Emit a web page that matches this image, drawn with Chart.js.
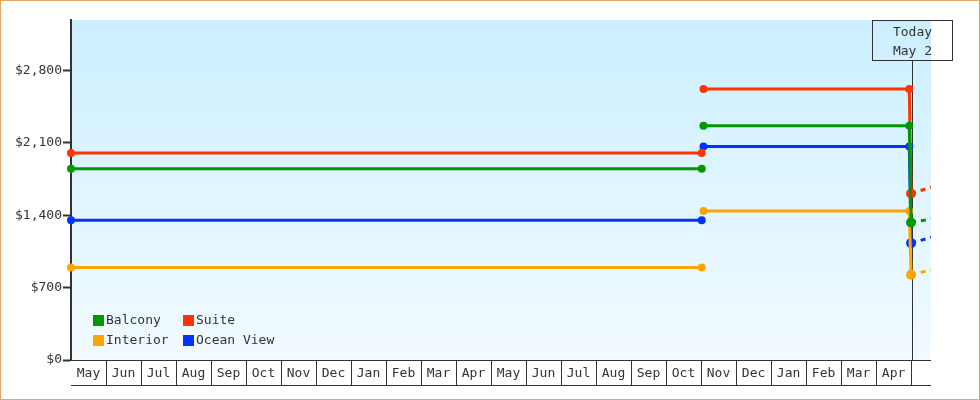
<!DOCTYPE html>
<html>
<head>
<meta charset="utf-8">
<script src="https://cdn.jsdelivr.net/npm/chart.js@4"></script>
<style>
  html, body { margin: 0; padding: 0; background: #fff; }
  #wrap { width: 980px; height: 400px; position: relative; }
</style>
</head>
<body>
<div id="wrap"><canvas id="chart"></canvas></div>
<script>
// Cabin price history, x in months since the first May
const monthLabels = ['May', 'Jun', 'Jul', 'Aug', 'Sep', 'Oct', 'Nov', 'Dec', 'Jan', 'Feb', 'Mar', 'Apr',
                     'May', 'Jun', 'Jul', 'Aug', 'Sep', 'Oct', 'Nov', 'Dec', 'Jan', 'Feb', 'Mar', 'Apr'];
const seriesNames = ['Balcony', 'Suite', 'Interior', 'Ocean View'];
const pointMonths = [0, 18.02, 18.05, 18.07, 23.95, 24.0];
const balcony   = [1850, 1850, null, 2265, 2265, 1330];
const suite     = [2000, 2000, null, 2620, 2620, 1610];
const interior  = [895, 895, null, 1440, 1440, 825];
const oceanView = [1350, 1350, null, 2065, 2065, 1130];

// projected trend after today (dashed)
const projMonths = [24.0, 25.0];
const balconyProj   = [1330, 1385];
const suiteProj     = [1610, 1715];
const interiorProj  = [825, 905];
const oceanViewProj = [1130, 1225];

const yTickValues = [0, 700, 1400, 2100, 2800];
const todayMonth = 24.04;
const todayLabel = ['Today', 'May 2'];

const seriesColors = ['#009900', '#ff3300', '#ffa500', '#0033ff'];
const FONT = '13px "DejaVu Sans Mono", monospace';
const INK = '#333';

function toPoints(xs, ys) {
    return xs.map((x, i) => ({ x: x, y: ys[i] }));
}

const mainValues = [balcony, suite, interior, oceanView];
const projValues = [balconyProj, suiteProj, interiorProj, oceanViewProj];

const datasets = [];
mainValues.forEach((vals, i) => {
    datasets.push({
        label: seriesNames[i],
        data: toPoints(pointMonths, vals),
        borderColor: seriesColors[i],
        backgroundColor: seriesColors[i],
        borderWidth: 3,
        pointRadius: vals.map((v, j) => v === null ? 0 : (j === vals.length - 1 ? 5 : 4)),
        pointHoverRadius: 5,
        pointBorderWidth: 0,
        spanGaps: false,
        tension: 0,
        clip: false
    });
});
projValues.forEach((vals, i) => {
    datasets.push({
        label: '',
        isProjection: true,
        data: toPoints(projMonths, vals),
        borderColor: seriesColors[i],
        borderWidth: 3,
        borderDash: [5, 5],
        pointRadius: 0,
        tension: 0
    });
});

// plot background, outer frame
const backdropPlugin = {
    id: 'backdrop',
    beforeDraw(chart) {
        const { ctx, chartArea: a } = chart;
        ctx.save();
        ctx.fillStyle = '#fff';
        ctx.fillRect(0, 0, chart.width, chart.height);
        const g = ctx.createLinearGradient(0, a.top, 0, a.bottom);
        g.addColorStop(0, '#ccefff');
        g.addColorStop(1, '#f2fbff');
        ctx.fillStyle = g;
        ctx.fillRect(a.left, a.top, a.right - a.left, a.bottom - a.top);
        ctx.restore();
    },
    afterDraw(chart) {
        const ctx = chart.ctx;
        ctx.save();
        ctx.strokeStyle = '#e8a862';
        ctx.lineWidth = 1;
        ctx.strokeRect(0.5, 0.5, chart.width - 1, chart.height - 1);
        ctx.restore();
    }
};

// month cells under the plot
const monthAxisPlugin = {
    id: 'monthAxis',
    afterDraw(chart) {
        const { ctx, chartArea: a } = chart;
        const xs = chart.scales.x;
        const top = a.bottom, bottom = a.bottom + 25;
        ctx.save();
        ctx.strokeStyle = INK;
        ctx.lineWidth = 1;
        ctx.beginPath();
        ctx.moveTo(a.left, top + 0.5);
        ctx.lineTo(a.right, top + 0.5);
        ctx.moveTo(a.left, bottom + 0.5);
        ctx.lineTo(a.right, bottom + 0.5);
        for (let i = 1; i <= monthLabels.length; i++) {
            const x = Math.round(xs.getPixelForValue(i)) + 0.5;
            ctx.moveTo(x, top);
            ctx.lineTo(x, bottom);
        }
        ctx.stroke();
        ctx.fillStyle = INK;
        ctx.font = FONT;
        ctx.textAlign = 'center';
        ctx.textBaseline = 'middle';
        monthLabels.forEach((m, i) => {
            ctx.fillText(m, xs.getPixelForValue(i + 0.5), top + 14);
        });
        ctx.restore();
    }
};

// "Today" marker
const todayPlugin = {
    id: 'today',
    beforeDatasetsDraw(chart) {
        const { ctx, chartArea: a } = chart;
        const x = Math.round(chart.scales.x.getPixelForValue(todayMonth)) + 0.5;
        ctx.save();
        ctx.strokeStyle = INK;
        ctx.lineWidth = 1;
        ctx.beginPath();
        ctx.moveTo(x, a.top + 40);
        ctx.lineTo(x, a.bottom);
        ctx.stroke();
        ctx.strokeRect(x - 40, a.top + 0.5, 80, 40);
        ctx.fillStyle = INK;
        ctx.font = FONT;
        ctx.textAlign = 'center';
        ctx.textBaseline = 'middle';
        ctx.fillText(todayLabel[0], x, a.top + 13);
        ctx.fillText(todayLabel[1], x, a.top + 32);
        ctx.restore();
    }
};

// legend inside the plot, two columns
const insideLegendPlugin = {
    id: 'insideLegend',
    afterDatasetsDraw(chart) {
        const { ctx, chartArea: a } = chart;
        const items = chart.data.datasets.filter(d => !d.isProjection);
        ctx.save();
        ctx.font = FONT;
        ctx.textBaseline = 'middle';
        ctx.textAlign = 'left';
        items.forEach((d, i) => {
            const col = i % 2, row = Math.floor(i / 2);
            const x = a.left + 22 + col * 90;
            const y = a.bottom - 40 + row * 20;
            ctx.fillStyle = d.borderColor;
            ctx.fillRect(x, y - 5, 11, 11);
            ctx.fillStyle = INK;
            ctx.fillText(d.label, x + 13, y + 1);
        });
        ctx.restore();
    }
};

const ctx = document.getElementById('chart').getContext('2d');
new Chart(ctx, {
    type: 'line',
    data: { datasets: datasets },
    options: {
        responsive: true,
        maintainAspectRatio: false,
        animation: false,
        layout: { padding: { left: 0, right: 49, top: 20, bottom: 0 } },
        plugins: {
            legend: { display: false },
            tooltip: { enabled: false }
        },
        scales: {
            x: {
                type: 'linear',
                min: 0,
                max: 24.57,
                ticks: { display: false },
                grid: { display: false },
                border: { display: false },
                afterFit: scale => { scale.height = 40; }
            },
            y: {
                min: 0,
                max: 3287,
                afterBuildTicks: scale => {
                    scale.ticks = yTickValues.map(v => ({ value: v }));
                },
                afterFit: scale => { scale.width = 71; },
                ticks: {
                    color: INK,
                    font: { family: '"DejaVu Sans Mono", monospace', size: 13 },
                    padding: 1,
                    callback: v => '$' + v.toLocaleString('en-US')
                },
                grid: {
                    drawOnChartArea: false,
                    drawTicks: true,
                    tickLength: 8,
                    tickWidth: 2,
                    tickColor: INK,
                    color: INK
                },
                border: { display: true, color: INK, width: 2 }
            }
        }
    },
    plugins: [backdropPlugin, monthAxisPlugin, todayPlugin, insideLegendPlugin]
});
</script>
</body>
</html>
